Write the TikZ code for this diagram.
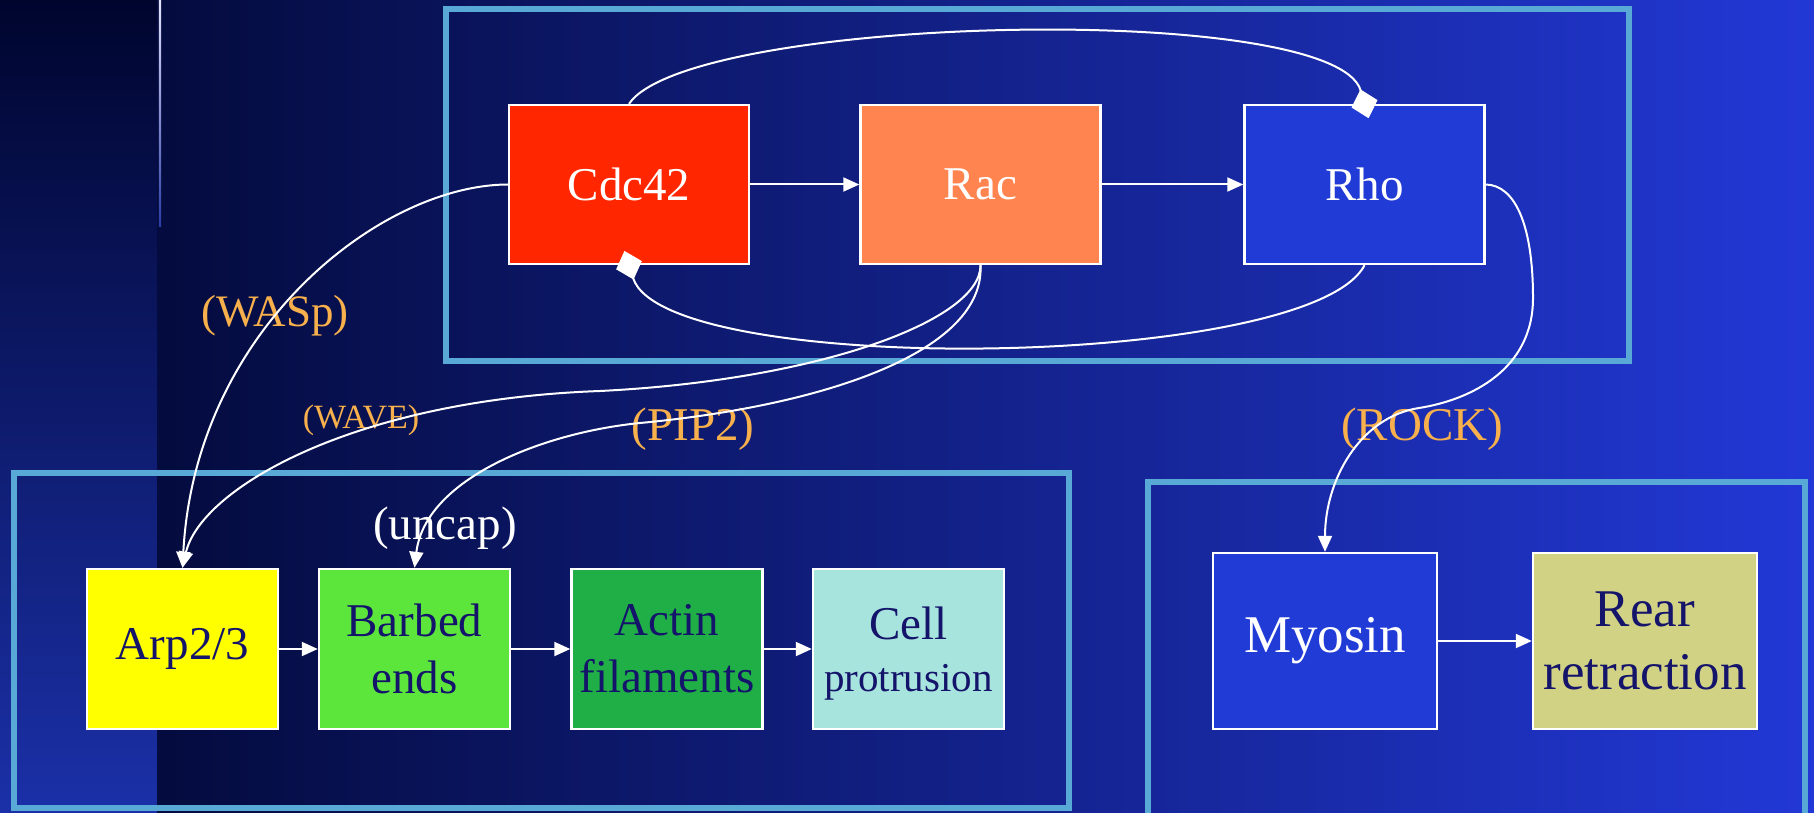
\documentclass[tikz,border=0pt]{standalone}
\usepackage{fontspec}
\setmainfont{Liberation Serif}
\usetikzlibrary{arrows.meta}

\definecolor{stripTop}{HTML}{00052E}
\definecolor{stripBot}{HTML}{1B30A8}
\definecolor{mainL}{HTML}{040B3E}
\definecolor{mainR}{HTML}{2238D6}
\definecolor{hairline}{HTML}{2A3CA6}
\definecolor{framec}{HTML}{58A9D6}
\definecolor{cdcred}{HTML}{FF2600}
\definecolor{racorange}{HTML}{FF8450}
\definecolor{rhoblue}{HTML}{213BD6}
\definecolor{arpyellow}{HTML}{FFFF00}
\definecolor{barbgreen}{HTML}{5CE63C}
\definecolor{actgreen}{HTML}{20AF46}
\definecolor{cellcyan}{HTML}{A8E4DE}
\definecolor{rearolive}{HTML}{D2D284}
\definecolor{ink}{HTML}{14146A}
\definecolor{tagc}{HTML}{F7B04C}

\begin{document}
\begin{tikzpicture}[x=1pt,y=-1pt,
  gbox/.style={draw=white,line width=2.4pt,inner sep=0pt,align=center},
  toprow/.style={gbox,minimum width=240pt,minimum height=159pt,
    font=\fontsize{47}{57}\selectfont,text=white},
  actrow/.style={gbox,minimum width=191pt,minimum height=160pt,
    font=\fontsize{47}{57}\selectfont,text=ink},
  myorow/.style={gbox,minimum width=224pt,minimum height=176pt,
    font=\fontsize{53}{63}\selectfont},
  panel/.style={draw=framec,line width=6pt},
  wire/.style={draw=white,line width=2pt},
  actarrow/.style={wire,-{Triangle[length=16pt,width=14pt]}},
  inharrow/.style={wire,-{Diamond[length=30pt,width=27pt]},shorten >=-15pt},
  cue/.style={text=tagc,inner sep=0pt,font=\fontsize{47}{57}\selectfont},
]
% backdrop: dark side strip plus horizontal blue gradient
\useasboundingbox (0,0) rectangle (1814,813);
\shade[top color=stripTop,bottom color=stripBot] (0,0) rectangle (157,813);
\shade[left color=mainL,right color=mainR] (157,0) rectangle (1814,813);
\shade[top color=white!90!blue,bottom color=hairline] (158.8,0) rectangle (161.2,226);

% grouping panels
\draw[panel] (446,9) rectangle (1629,361);
\draw[panel] (14,473) rectangle (1069,808);
\draw[panel] (1148,482) rectangle (1805,840);

% GTPases
\node[toprow,fill=cdcred] (cdc) at (629,184.5) {Cdc42};
\node[toprow,fill=racorange] (rac) at (980.5,184.5) {Rac};
\node[toprow,fill=rhoblue] (rho) at (1364.5,184.5) {Rho};

% actin branch
\node[actrow,fill=arpyellow] (arp) at (182.5,649) {Arp2/3};
\node[actrow,fill=barbgreen] (barb) at (414.5,649) {Barbed\\ends};
\node[actrow,fill=actgreen] (actin) at (667,649) {Actin\\filaments};
\node[actrow,fill=cellcyan,font=\fontsize{47}{52}\selectfont] (cell) at (908.5,649)
  {Cell\\{\fontsize{41}{52}\selectfont\raisebox{0pt}[\height][0pt]{protrusion}}};

% myosin branch
\node[myorow,fill=rhoblue,text=white] (myo) at (1325,641) {Myosin};
\node[myorow,fill=rearolive,text=ink] (rear) at (1645,641) {Rear\\retraction};

% effector labels
\node[cue,font=\fontsize{45}{54}\selectfont] (wasp) at (275,316) {(WASp)};
\node[cue,font=\fontsize{34}{41}\selectfont] (wave) at (361,420) {(WAVE)};
\node[cue] (pip) at (693,429) {(PIP2)};
\node[cue,text=white] (uncap) at (445,528) {(uncap)};
\node[cue] (rock) at (1422,429) {(ROCK)};

% activation chain
\draw[actarrow] (cdc) -- (rac);
\draw[actarrow] (rac) -- (rho);
\draw[actarrow] (arp) -- (barb);
\draw[actarrow] (barb) -- (actin);
\draw[actarrow] (actin) -- (cell);
\draw[actarrow] (myo) -- (rear);

% mutual inhibition between Cdc42 and Rho
\draw[inharrow] (cdc.north) .. controls (690,15) and (1335,0) .. (rho.north);
\draw[inharrow] (rho.south) .. controls (1310,370) and (665,378) .. (cdc.south);

% effector pathways
\draw[actarrow] (cdc.west) .. controls (380,185) and (195,330) .. (arp.north);
\draw[actarrow] (rac.south) .. controls (981,320) and (820,380) .. (600,391)
  .. controls (350,400) and (200,490) .. (arp.north);
\draw[actarrow] (rac.south) .. controls (985,350) and (830,405) .. (640,423)
  .. controls (540,433) and (425,480) .. (barb.north);
\draw[actarrow] (rho.east) .. controls (1515,185) and (1533,225) .. (1533,298)
  .. controls (1533,370) and (1470,400) .. (1419,408)
  .. controls (1360,417) and (1325,480) .. (myo.north);
\end{tikzpicture}
\end{document}
